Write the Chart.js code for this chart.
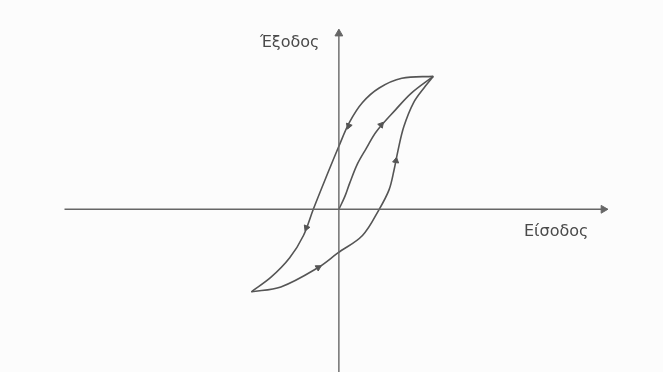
<!DOCTYPE html>
<html>
<head>
<meta charset="utf-8">
<script src="https://cdn.jsdelivr.net/npm/chart.js@4"></script>
<style>
  html, body { margin: 0; padding: 0; background: #fcfcfc; }
  canvas { display: block; }
</style>
</head>
<body>
<canvas id="loop" width="663" height="372"></canvas>
<script>
// βρόχος υστέρησης: είσοδος (x) / έξοδος (y)
const descBranch = [
    { x: 9.6, y: 13.7 }, { x: 6.4, y: 13.5 }, { x: 4.1, y: 12.5 }, { x: 2.4, y: 11.0 },
    { x: 1.1, y: 9.0 }, { x: 0.0, y: 6.5 }, { x: -1.3, y: 3.3 }, { x: -2.6, y: 0 },
    { x: -3.6, y: -2.7 }, { x: -5.0, y: -5.0 }, { x: -6.9, y: -7.0 }, { x: -8.9, y: -8.5 }
];
const ascBranch = [
    { x: -8.9, y: -8.5 }, { x: -5.9, y: -8.0 }, { x: -2.1, y: -6.0 }, { x: -0.1, y: -4.5 },
    { x: 2.4, y: -2.7 }, { x: 4.1, y: 0 }, { x: 5.1, y: 2.0 }, { x: 5.6, y: 4.0 },
    { x: 6.0, y: 6.0 }, { x: 6.6, y: 8.5 }, { x: 7.6, y: 11.0 }, { x: 8.8, y: 12.7 },
    { x: 9.6, y: 13.7 }
];
const initialCurve = [
    { x: 0, y: 0 }, { x: 0.6, y: 1.3 }, { x: 1.1, y: 2.7 }, { x: 1.9, y: 4.7 },
    { x: 2.8, y: 6.3 }, { x: 3.8, y: 8.0 }, { x: 5.8, y: 10.3 }, { x: 7.4, y: 12.0 },
    { x: 9.6, y: 13.7 }
];
// βέλη φοράς πάνω στις καμπύλες
const arrowPoints = [
    { x: 1.0, y: 8.6 }, { x: -3.3, y: -1.9 }, { x: -2.1, y: -6.0 },
    { x: 5.8, y: 5.0 }, { x: 4.3, y: 8.7 }
];
const arrowAngles = [200, 203, 60, 10, 40];
// άξονες
const xAxisLine = [{ x: -27.9, y: 0 }, { x: 27.3, y: 0 }];
const yAxisLine = [{ x: 0, y: -17 }, { x: 0, y: 18.5 }];
const axisHeads = [{ x: 26.9, y: 0 }, { x: 0, y: 18.1 }];
const axisHeadAngles = [90, 0];
const axisLabels = ['Έξοδος', 'Είσοδος'];
const labelPos = [{ x: -5.0, y: 17.2 }, { x: 22.1, y: -2.3 }];

const ink = '#555555';

const labelPlugin = {
    id: 'axisText',
    afterDatasetsDraw(chart) {
        const { ctx, scales } = chart;
        ctx.save();
        ctx.fillStyle = '#4a4a4a';
        ctx.font = '16px "DejaVu Sans", sans-serif';
        ctx.textAlign = 'center';
        ctx.textBaseline = 'middle';
        axisLabels.forEach((t, i) => {
            ctx.fillText(t, scales.x.getPixelForValue(labelPos[i].x), scales.y.getPixelForValue(labelPos[i].y));
        });
        ctx.restore();
    }
};

const lineStyle = {
    showLine: true,
    borderColor: ink,
    borderWidth: 1.6,
    pointRadius: 0,
    fill: false,
    clip: false
};

new Chart(document.getElementById('loop'), {
    type: 'scatter',
    data: {
        datasets: [
            { ...lineStyle, data: xAxisLine, tension: 0, borderWidth: 1.4, borderColor: '#666' },
            { ...lineStyle, data: yAxisLine, tension: 0, borderWidth: 1.4, borderColor: '#666' },
            { ...lineStyle, data: descBranch, tension: 0.35 },
            { ...lineStyle, data: ascBranch, tension: 0.35 },
            { ...lineStyle, data: initialCurve, tension: 0.35 },
            {
                data: arrowPoints,
                pointStyle: 'triangle',
                rotation: arrowAngles,
                pointRadius: 3.5,
                backgroundColor: ink,
                borderColor: ink,
                borderWidth: 1
            },
            {
                data: axisHeads,
                pointStyle: 'triangle',
                rotation: axisHeadAngles,
                pointRadius: 4.5,
                backgroundColor: '#666',
                borderColor: '#666',
                borderWidth: 1
            }
        ]
    },
    options: {
        responsive: false,
        animation: false,
        layout: { padding: 0 },
        plugins: {
            legend: { display: false },
            tooltip: { enabled: false }
        },
        scales: {
            x: { type: 'linear', min: -33.9, max: 32.4, display: false },
            y: { type: 'linear', min: -16.2, max: 21.0, display: false }
        }
    },
    plugins: [labelPlugin]
});
</script>
</body>
</html>
